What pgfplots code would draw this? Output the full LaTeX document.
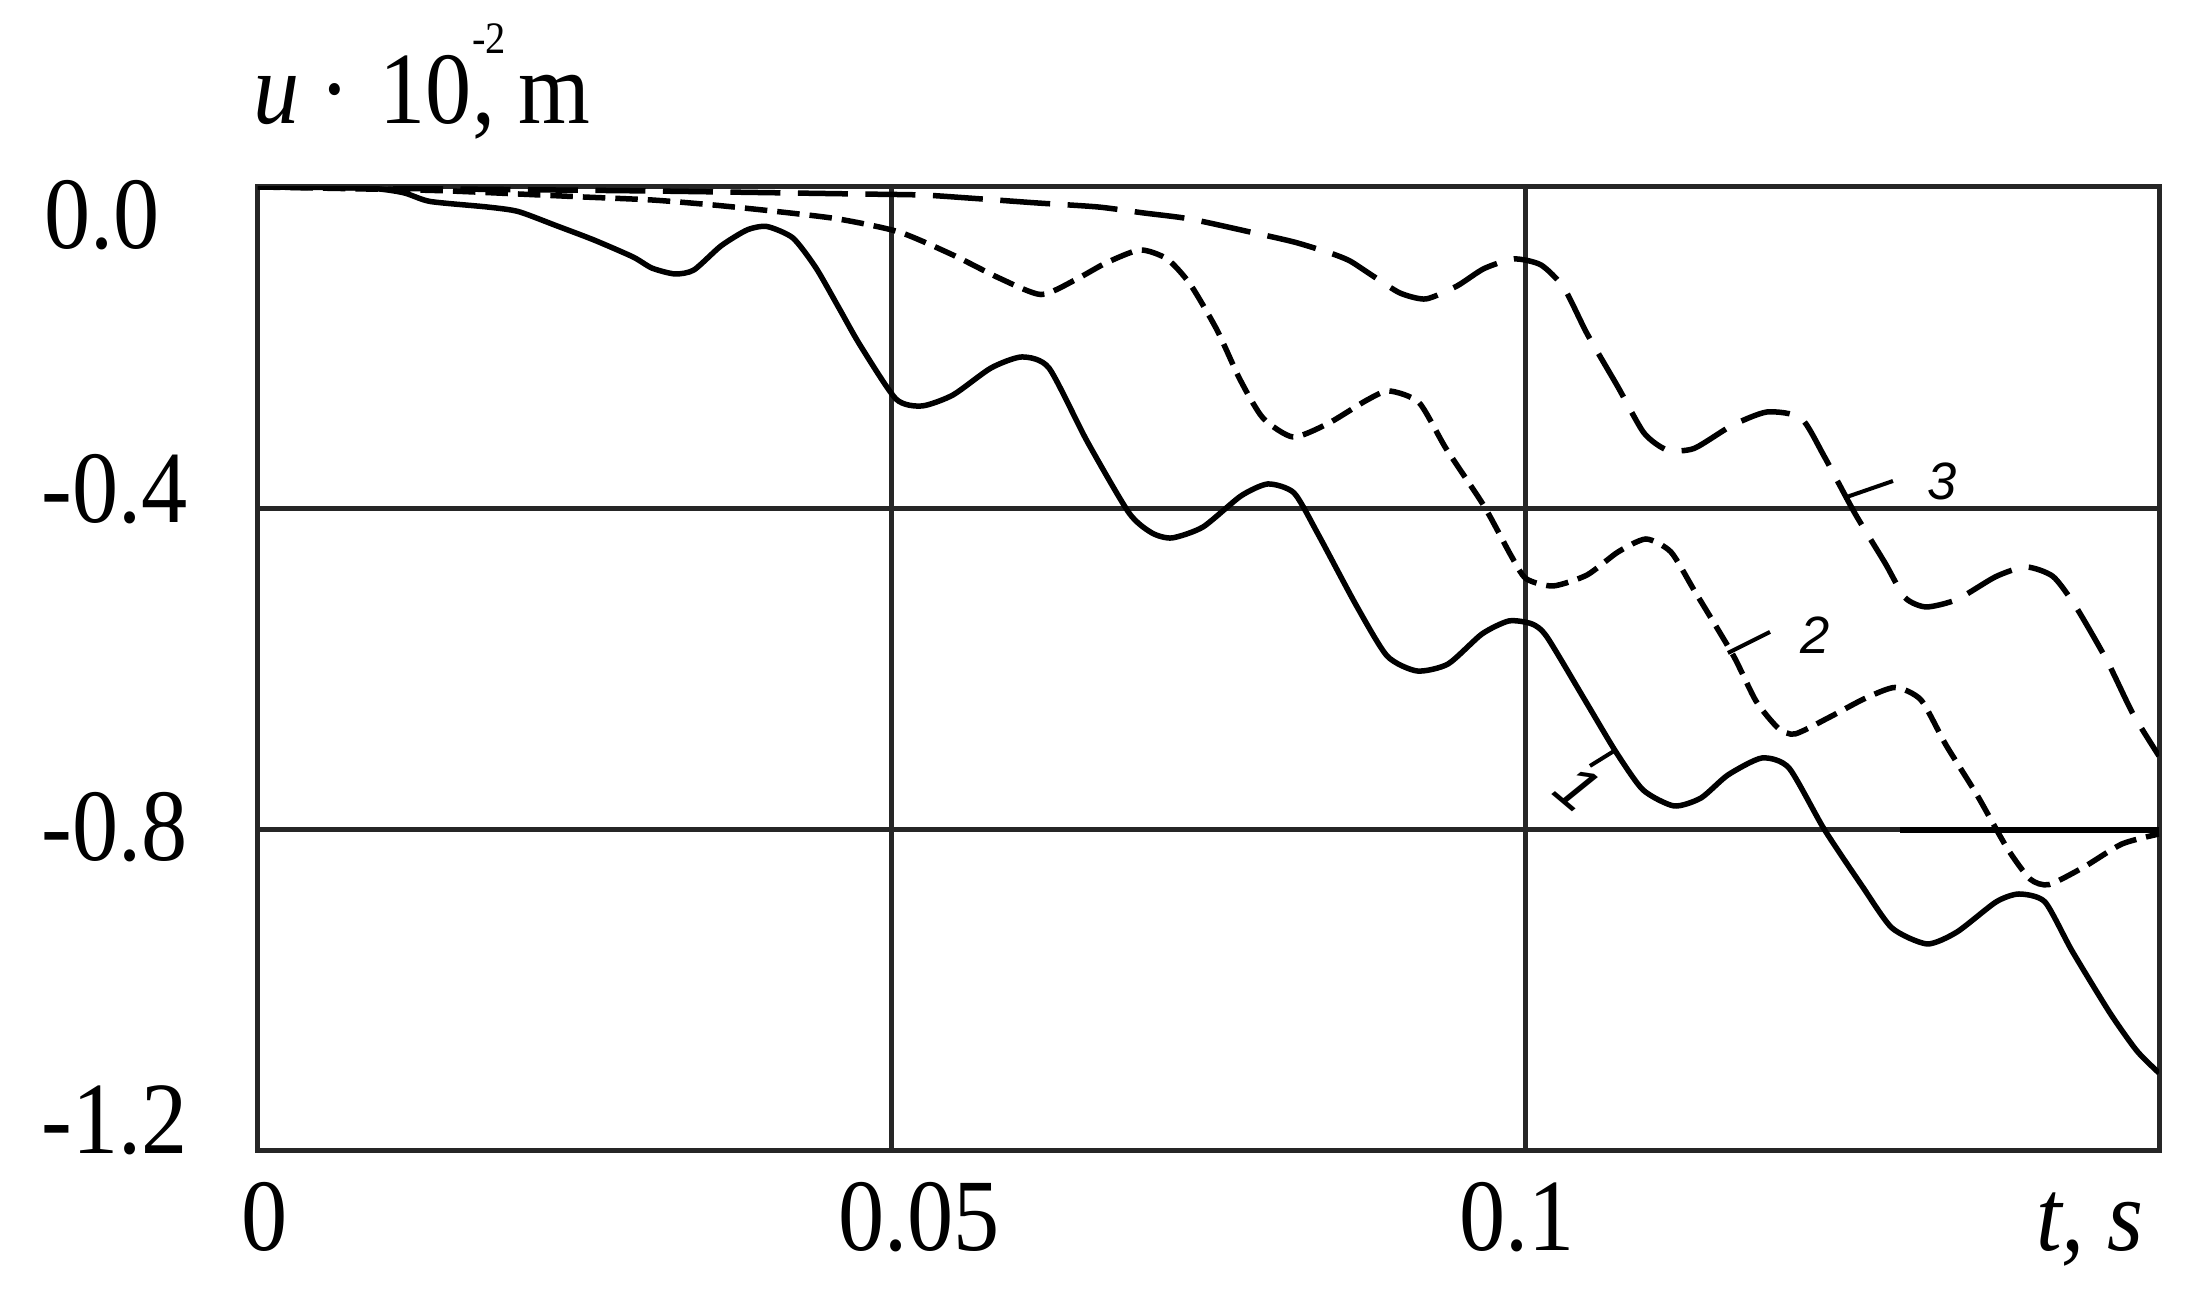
\documentclass[border=0pt]{standalone}
\usepackage{fontspec}
\setmainfont{Liberation Serif}[FakeStretch=0.9]
\newfontfamily\labfont{Liberation Sans}
\usepackage{pgfplots}
\usepackage{pgfplotstable}
\pgfplotsset{compat=1.18}
\newcommand\bigf{\fontsize{20.5}{24}\selectfont}

\pgfplotstableread{
t u
0 0
0.00844 -0.0012
0.01144 -0.0070
0.01357 -0.0180
0.01807 -0.0249
0.02052 -0.0305
0.02351 -0.0480
0.02651 -0.0660
0.02959 -0.0871
0.03109 -0.1010
0.03290 -0.1083
0.03440 -0.1033
0.03653 -0.0734
0.03859 -0.0535
0.04016 -0.0492
0.04221 -0.0635
0.04403 -0.1008
0.04584 -0.1506
0.04750 -0.1967
0.05034 -0.2639
0.05239 -0.2726
0.05484 -0.2589
0.05784 -0.2253
0.06028 -0.2116
0.06241 -0.2253
0.06541 -0.3162
0.06873 -0.4058
0.07054 -0.4307
0.07212 -0.4369
0.07457 -0.4232
0.07756 -0.3846
0.07969 -0.3697
0.08175 -0.3809
0.08364 -0.4320
0.08664 -0.5203
0.08909 -0.5838
0.09145 -0.6025
0.09390 -0.5938
0.09658 -0.5564
0.09871 -0.5402
0.10053 -0.5440
0.10171 -0.5602
0.10479 -0.6411
0.10715 -0.7033
0.10929 -0.7506
0.11173 -0.7705
0.11386 -0.7606
0.11599 -0.7319
0.11867 -0.7108
0.12080 -0.7232
0.12357 -0.7992
0.12657 -0.8701
0.12893 -0.9224
0.13170 -0.9423
0.13406 -0.9274
0.13714 -0.8900
0.13895 -0.8801
0.14100 -0.8900
0.14314 -0.9510
0.14613 -1.0282
0.14826 -1.0755
0.15 -1.1029
}\curveA

\pgfplotstableread{
t u
0 0
0.00844 -0.0025
0.01515 -0.0050
0.02557 -0.0124
0.03109 -0.0162
0.03590 -0.0224
0.04056 -0.0299
0.04577 -0.0398
0.05058 -0.0560
0.05484 -0.0847
0.05847 -0.1133
0.06178 -0.1339
0.06447 -0.1158
0.06691 -0.0946
0.06960 -0.0784
0.07173 -0.0896
0.07354 -0.1207
0.07567 -0.1780
0.07749 -0.2398
0.07930 -0.2876
0.08167 -0.3112
0.08443 -0.2945
0.08743 -0.2659
0.08924 -0.2539
0.09161 -0.2684
0.09374 -0.3255
0.09674 -0.3971
0.09887 -0.4588
0.10005 -0.4875
0.10218 -0.4967
0.10487 -0.4830
0.10731 -0.4544
0.10952 -0.4382
0.11149 -0.4544
0.11331 -0.5017
0.11639 -0.5826
0.11820 -0.6399
0.11994 -0.6734
0.12128 -0.6809
0.12404 -0.6597
0.12672 -0.6373
0.12917 -0.6230
0.13122 -0.6386
0.13319 -0.6946
0.13564 -0.7568
0.13801 -0.8228
0.13982 -0.8614
0.14132 -0.8684
0.14408 -0.8465
0.14708 -0.8178
0.15 -0.8054
}\curveB

\pgfplotstableread{
t u
0 0
0.01515 -0.0025
0.03093 -0.0050
0.04719 -0.0087
0.05239 -0.0100
0.05602 -0.0137
0.06147 -0.0199
0.06628 -0.0249
0.06991 -0.0324
0.07354 -0.0398
0.07827 -0.0560
0.08175 -0.0685
0.08459 -0.0822
0.08616 -0.0921
0.08798 -0.1108
0.09011 -0.1320
0.09216 -0.1394
0.09461 -0.1232
0.09674 -0.1016
0.09911 -0.0896
0.10124 -0.0971
0.10305 -0.1257
0.10487 -0.1826
0.10731 -0.2490
0.10936 -0.3062
0.11118 -0.3274
0.11331 -0.3255
0.11631 -0.2969
0.11907 -0.2801
0.12175 -0.2876
0.12357 -0.3349
0.12601 -0.4064
0.12838 -0.4680
0.12996 -0.5112
0.13162 -0.5228
0.13406 -0.5135
0.13714 -0.4849
0.13951 -0.4730
0.14164 -0.4849
0.14345 -0.5228
0.14590 -0.5897
0.14795 -0.6560
0.15 -0.7083
}\curveC

\begin{document}
\begin{tikzpicture}
\begin{axis}[
  name=ax,
  scale only axis, width=380.2pt, height=192.8pt,
  xmin=0, xmax=0.15, ymin=-1.2, ymax=0,
  axis line style={black!85, line width=1pt},
  xtick={0,0.05,0.1,0.15},
  xticklabels={{\kern2.8pt 0},{\kern11pt 0.05},{0.1\kern3.3pt},{\textit{t, s}\kern27.6pt}},
  ytick={0,-0.4,-0.8,-1.2},
  yticklabels={{\raisebox{-12.3pt}{0.0}\kern5.6pt},{\raisebox{-2.9pt}{-0.4}},{\raisebox{-6.1pt}{-0.8}},{\raisebox{-0.5pt}{-1.2}}},
  major tick length=0pt,
  xmajorgrids, ymajorgrids,
  major grid style={black!85, line width=0.9pt},
  tick label style={font=\bigf, inner sep=0pt},
  xticklabel style={anchor=base, yshift=-20pt},
  yticklabel style={anchor=base east, xshift=-13.8pt},
]
\addplot[black, line width=1.1pt, smooth, tension=0.4] table {\curveA};
\addplot[black, line width=1.1pt, smooth, tension=0.4, dash pattern=on 4.5pt off 2pt] table {\curveB};
\addplot[black, line width=1.1pt, smooth, tension=0.4, dash pattern=on 10pt off 3.5pt] table {\curveC};
\addplot[black, line width=1.2pt] coordinates {(0.12956,-0.8) (0.15,-0.8)};
% leader lines of the curve labels
\addplot[black, line width=0.8pt] coordinates {(0.12514,-0.3871) (0.12901,-0.3660)};
\addplot[black, line width=0.8pt] coordinates {(0.11599,-0.5801) (0.11931,-0.5539)};
\addplot[black, line width=0.8pt] coordinates {(0.10510,-0.7207) (0.10700,-0.7021)};
\node[font=\labfont\itshape\fontsize{10.5}{10.5}\selectfont] at (axis cs:0.13288,-0.3660) {3};
\node[font=\labfont\itshape\fontsize{10.5}{10.5}\selectfont] at (axis cs:0.12286,-0.5577) {2};
\node[font=\labfont\itshape\fontsize{12.5}{12.5}\selectfont, rotate=-40] at (axis cs:0.10416,-0.7481) {1};
\end{axis}
\node[anchor=base west, font=\bigf, inner sep=0pt] at ([xshift=-1.2pt,yshift=12.6pt]ax.north west)
  {\textit{u}\hspace{4pt}·\hspace{6pt}10\rlap{\raisebox{14pt}{\fontsize{9}{9}\selectfont -2}}, m};
\pgfresetboundingbox
\path ([xshift=-51.6pt,yshift=-28.2pt]ax.south west) rectangle ([xshift=387.2pt,yshift=230.2pt]ax.south west);
\end{tikzpicture}
\end{document}
